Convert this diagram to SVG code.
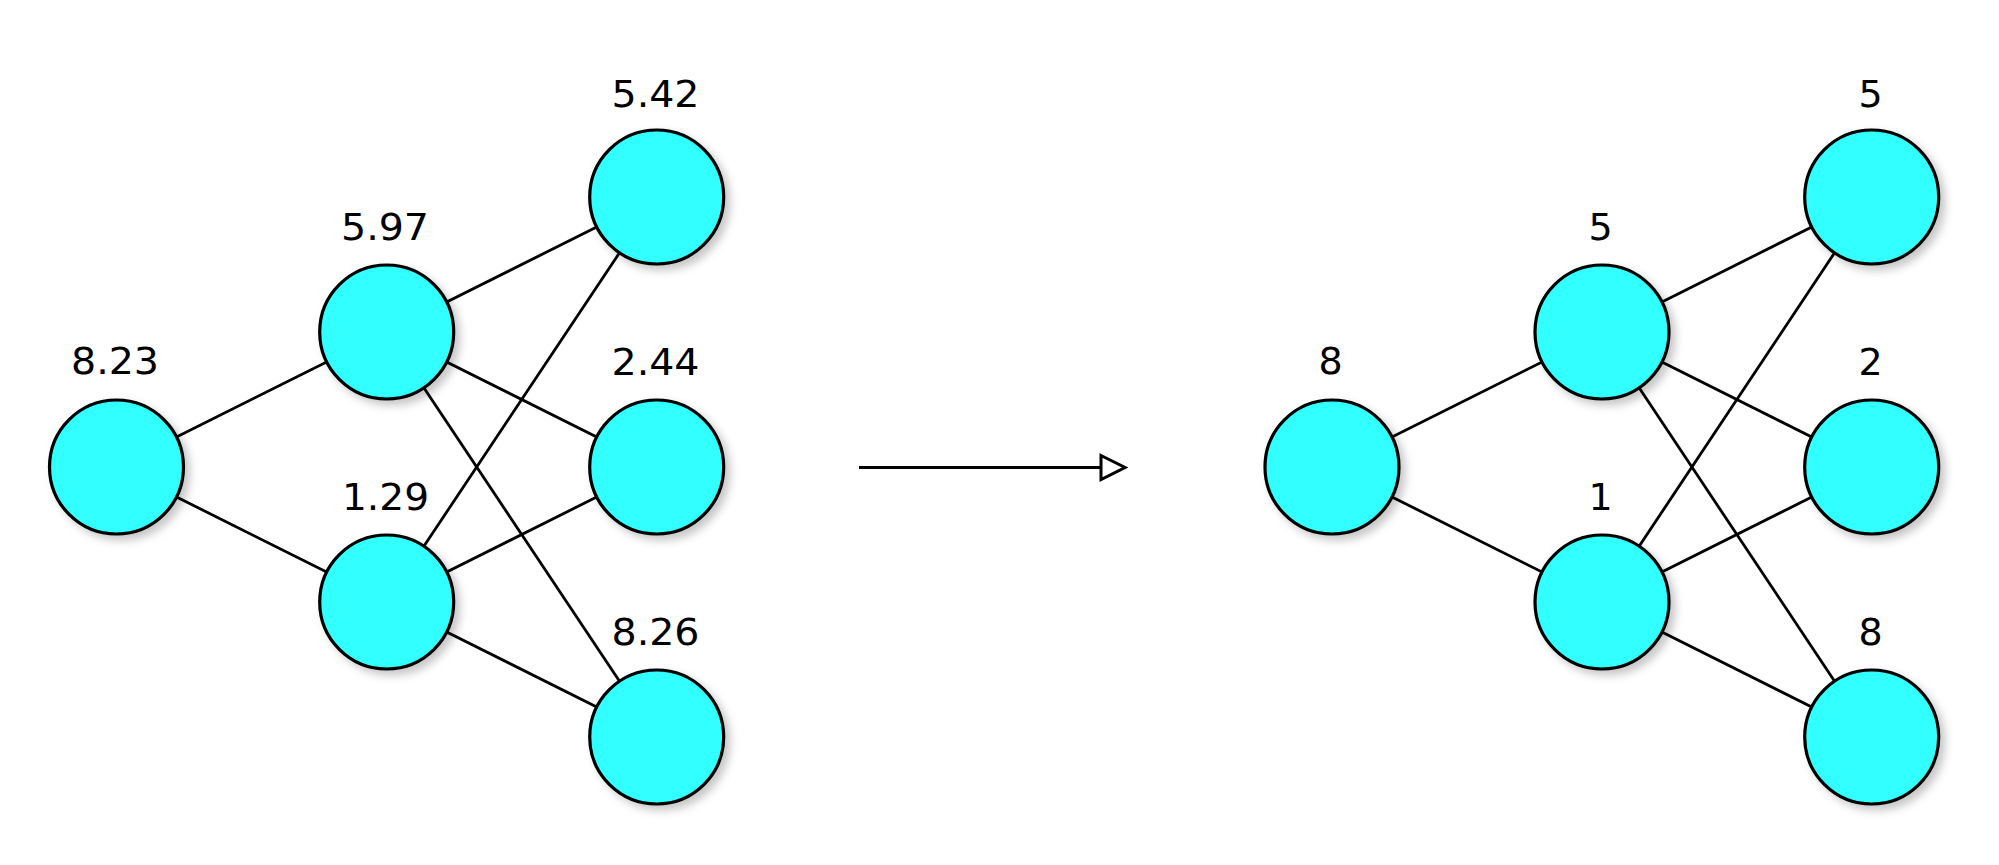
<svg xmlns="http://www.w3.org/2000/svg" width="1999" height="865" viewBox="0 0 1999 865">
<defs>
<filter id="sh" x="-30%" y="-30%" width="160%" height="160%">
<feDropShadow dx="5" dy="5" stdDeviation="4" flood-color="#000" flood-opacity="0.22"/>
</filter>
<marker id="tri" viewBox="0 0 30 30" refX="3" refY="15" markerWidth="30" markerHeight="30" markerUnits="userSpaceOnUse" orient="auto">
<path d="M3,3 L27,15 L3,27 Z" fill="#fff" stroke="#000" stroke-width="3"/>
</marker>
</defs>
<style>
.n circle{fill:#33ffff;stroke:#000;stroke-width:3.2;filter:url(#sh)}
.n text{font-family:"DejaVu Sans","Verdana",sans-serif;font-size:38px;fill:#000;text-anchor:middle}
.e line{stroke:#000;stroke-width:2.8}
</style>
<rect width="1999" height="865" fill="#fff"/>
<g id="connectors" class="e">
<line x1="116.5" y1="467" x2="386.7" y2="332"/>
<line x1="116.5" y1="467" x2="386.7" y2="602"/>
<line x1="386.7" y1="332" x2="656.7" y2="197"/>
<line x1="386.7" y1="332" x2="656.7" y2="467"/>
<line x1="386.7" y1="332" x2="656.7" y2="737"/>
<line x1="386.7" y1="602" x2="656.7" y2="197"/>
<line x1="386.7" y1="602" x2="656.7" y2="467"/>
<line x1="386.7" y1="602" x2="656.7" y2="737"/>
<line x1="1332" y1="467" x2="1602" y2="332"/>
<line x1="1332" y1="467" x2="1602" y2="602"/>
<line x1="1602" y1="332" x2="1871.7" y2="197"/>
<line x1="1602" y1="332" x2="1871.7" y2="467"/>
<line x1="1602" y1="332" x2="1871.7" y2="737"/>
<line x1="1602" y1="602" x2="1871.7" y2="197"/>
<line x1="1602" y1="602" x2="1871.7" y2="467"/>
<line x1="1602" y1="602" x2="1871.7" y2="737"/>
<line x1="859" y1="467.5" x2="1101" y2="467.5" marker-end="url(#tri)"/>
</g>
<g id="L1" class="n"><circle cx="116.5" cy="467" r="67"/><text x="115" y="374" textLength="88" lengthAdjust="spacingAndGlyphs">8.23</text></g>
<g id="L2" class="n"><circle cx="386.7" cy="332" r="67"/><text x="385" y="240" textLength="88" lengthAdjust="spacingAndGlyphs">5.97</text></g>
<g id="L3" class="n"><circle cx="386.7" cy="602" r="67"/><text x="385.5" y="510" textLength="87" lengthAdjust="spacingAndGlyphs">1.29</text></g>
<g id="L4" class="n"><circle cx="656.7" cy="197" r="67"/><text x="655.5" y="106.5" textLength="88" lengthAdjust="spacingAndGlyphs">5.42</text></g>
<g id="L5" class="n"><circle cx="656.7" cy="467" r="67"/><text x="655.5" y="375" textLength="88" lengthAdjust="spacingAndGlyphs">2.44</text></g>
<g id="L6" class="n"><circle cx="656.7" cy="737" r="67"/><text x="655.5" y="645" textLength="88" lengthAdjust="spacingAndGlyphs">8.26</text></g>
<g id="R1" class="n"><circle cx="1332" cy="467" r="67"/><text x="1330.5" y="374">8</text></g>
<g id="R2" class="n"><circle cx="1602" cy="332" r="67"/><text x="1600.5" y="240">5</text></g>
<g id="R3" class="n"><circle cx="1602" cy="602" r="67"/><text x="1600.5" y="510">1</text></g>
<g id="R4" class="n"><circle cx="1871.7" cy="197" r="67"/><text x="1870.5" y="106.5">5</text></g>
<g id="R5" class="n"><circle cx="1871.7" cy="467" r="67"/><text x="1870.5" y="375">2</text></g>
<g id="R6" class="n"><circle cx="1871.7" cy="737" r="67"/><text x="1870.5" y="645">8</text></g>
</svg>
